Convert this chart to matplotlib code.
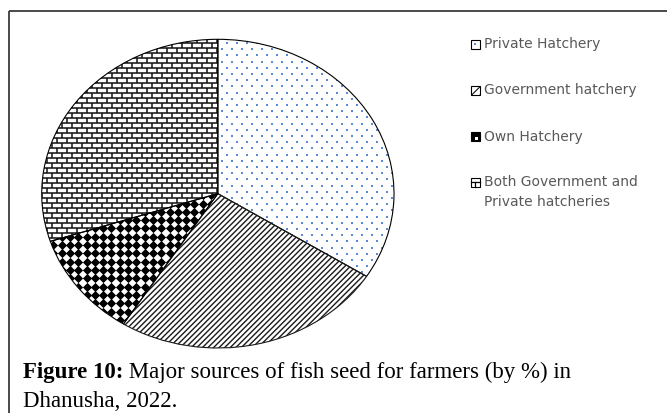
import matplotlib
matplotlib.use("Agg")
import matplotlib.pyplot as plt
import numpy as np
from matplotlib.collections import LineCollection
from matplotlib.patches import Rectangle

# share of farmers by source of fish seed (%)
sources = ["Private Hatchery", "Government hatchery", "Own Hatchery",
           "Both Government and\nPrivate hatcheries"]
shares = [34, 25, 11, 30]

W, H = 667, 413
fig = plt.figure(figsize=(W / 100, H / 100), dpi=100)
fig.patch.set_facecolor("white")

# overlay in pixel units for frame, legend and caption
over = fig.add_axes([0, 0, 1, 1])
over.set_xlim(0, W)
over.set_ylim(H, 0)
over.axis("off")

# pie axes, stretched so the pie comes out slightly oval
pl, pr, pt, pb = 41.7, 394.0, 39.3, 348.0
ax = fig.add_axes([pl / W, 1 - pb / H, (pr - pl) / W, (pb - pt) / H])
wedges, _ = ax.pie(shares, startangle=90, counterclock=False,
                   wedgeprops=dict(facecolor="none", edgecolor="black",
                                   linewidth=0.8, zorder=3))
ax.set_xlim(-1, 1)
ax.set_ylim(-1, 1)
ax.set_aspect("auto")
ax.axis("off")

px = 2 / (pr - pl)   # data units per pixel, x
py = 2 / (pb - pt)   # data units per pixel, y
rx, ry = (pr - pl) / 2 + 5, (pb - pt) / 2 + 5


def grid(dx, dy, stagger):
    xs, ys = [], []
    for i, yy in enumerate(np.arange(-ry, ry, dy)):
        off = dx / 2 if (stagger and i % 2) else 0
        cols = np.arange(-rx, rx, dx) + off
        xs.extend(cols)
        ys.extend([yy] * len(cols))
    return np.array(xs) * px, np.array(ys) * py


# Private: sparse blue dots
x, y = grid(10, 6.2, True)
sc = ax.scatter(x, y, s=1.6, marker="s", c="#5b8ad6", linewidths=0, zorder=2)
sc.set_clip_path(wedges[0])

# Government: dense diagonal lines
plt.rcParams["hatch.linewidth"] = 0.75
wedges[1].set_hatch("//////")
wedges[1].set_edgecolor("#1a1a1a")

# Own: black diamonds on a square grid
x, y = grid(8.3, 8.3, False)
sc = ax.scatter(x, y, s=22, marker="D", c="black", linewidths=0, zorder=2)
sc.set_clip_path(wedges[2])

# Both: brick pattern
segs = []
bh, bw = 5.0, 10.0
for i, yy in enumerate(np.arange(-ry, ry, bh)):
    segs.append([(-rx * px, yy * py), (rx * px, yy * py)])
    off = bw / 2 if i % 2 else 0
    for xx in np.arange(-rx, rx, bw) + off:
        segs.append([(xx * px, yy * py), (xx * px, (yy + bh) * py)])
lc = LineCollection(segs, colors="#111111", linewidths=1.1, zorder=2)
ax.add_collection(lc)
lc.set_clip_path(wedges[3])

# outer frame
over.add_patch(Rectangle((8.5, 11), 700, 500, fill=False,
                         edgecolor="#3c3c3c", linewidth=1.3))

# legend
leg_y = [44, 90, 136.5, 182]
ix, s = 470.5, 9
for k, (lab, yc) in enumerate(zip(sources, leg_y)):
    y0 = yc - s / 2
    if k == 0:
        over.add_patch(Rectangle((ix, y0), s, s, fc="white", ec="black", lw=0.8))
        over.plot([ix + s / 2], [yc], marker="s", ms=1.5, color="#5b8ad6", mew=0)
    elif k == 1:
        over.add_patch(Rectangle((ix, y0), s, s, fc="white", ec="black",
                                 lw=0.8, hatch="////"))
    elif k == 2:
        over.add_patch(Rectangle((ix, y0), s, s, fc="black", ec="black", lw=0.8))
        over.add_patch(Rectangle((ix + 4.5, y0 + 4.5), 3, 3, fc="white", lw=0))
    else:
        over.add_patch(Rectangle((ix, y0), s, s, fc="white", ec="black", lw=0.8))
        over.plot([ix, ix + s], [yc, yc], color="black", lw=0.9)
        over.plot([ix + s / 2, ix + s / 2], [yc, y0 + s], color="black", lw=0.9)
    lines = lab.split("\n")
    for j, ln in enumerate(lines):
        over.text(484, yc + j * 20, ln, fontsize=10, color="#595959",
                  family="DejaVu Sans", va="center", ha="left")

# caption
cap_font = "Liberation Serif"
t1 = over.text(23, 378, "Figure 10:", fontsize=16.5, fontweight="bold",
               family=cap_font, va="baseline", ha="left")
fig.canvas.draw()
wpx = t1.get_window_extent(fig.canvas.get_renderer()).width
over.text(23 + wpx, 378, " Major sources of fish seed for farmers (by %) in",
          fontsize=16.5, family=cap_font, va="baseline", ha="left")
over.text(23, 407, "Dhanusha, 2022.", fontsize=16.5, family=cap_font,
          va="baseline", ha="left")

fig.savefig("out.png", dpi=100, facecolor="white")
